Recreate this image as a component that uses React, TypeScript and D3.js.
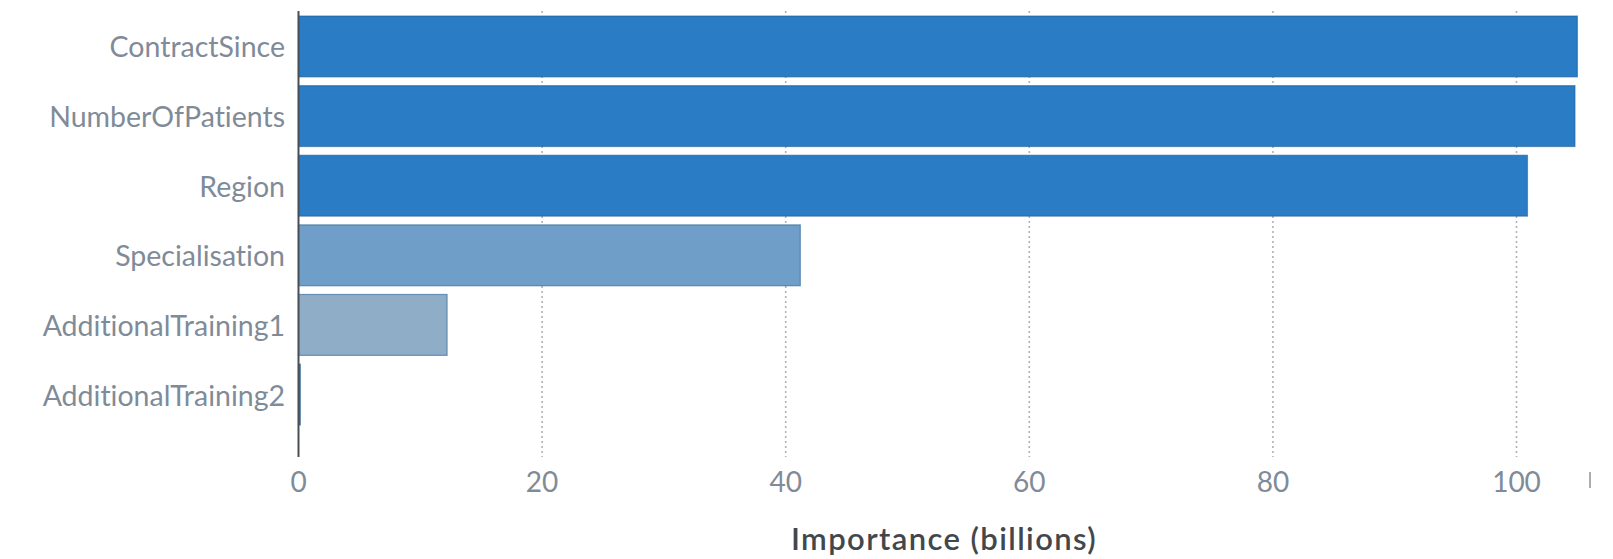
import React from "react";
import * as d3 from "d3";

const categories = [
  "ContractSince",
  "NumberOfPatients",
  "Region",
  "Specialisation",
  "AdditionalTraining1",
  "AdditionalTraining2",
];
const importance = [105.0, 104.8, 100.9, 41.2, 12.2, 0.15];
const barColors = ["#2a7cc5", "#2a7cc5", "#2a7cc5", "#6f9fc9", "#8fadc7", "#4d6a86"];
const xTicks = [0, 20, 40, 60, 80, 100];
const xDomainMax = 106;
const xTitle = "Importance (billions)";

const W = 1613;
const H = 559;
const FONT = "Lato, 'Open Sans', sans-serif";

export default function App() {
  const x = d3.scaleLinear().domain([0, xDomainMax]).range([298.5, 1589.6]);
  const y = d3
    .scaleBand<string>()
    .domain(categories)
    .range([11.65, 429.35])
    .paddingInner(0.125)
    .paddingOuter(0.0625);
  const plotTop = 11;
  const plotBottom = 457;

  return (
    <svg
      width={W}
      height={H}
      style={{
        position: "absolute",
        left: 0,
        top: 0,
        background: "#fff",
        fontVariantLigatures: "none",
      }}
      fontFamily={FONT}
    >
      {xTicks
        .filter((t) => t !== 0)
        .map((t) => (
          <line
            key={"g" + t}
            x1={x(t)}
            x2={x(t)}
            y1={plotTop}
            y2={plotBottom}
            stroke="#adb2b7"
            strokeWidth={1.6}
            strokeDasharray="2,3"
          />
        ))}
      {categories.map((c, i) => (
        <rect
          key={c}
          x={x(0)}
          y={y(c)}
          width={Math.max(1, x(importance[i]) - x(0))}
          height={y.bandwidth()}
          fill={barColors[i]}
          stroke="#1d5a8f"
          strokeOpacity={0.55}
          strokeWidth={1.2}
        />
      ))}
      <line
        x1={x(0)}
        x2={x(0)}
        y1={plotTop}
        y2={plotBottom}
        stroke="#4a4f55"
        strokeWidth={2}
      />
      {categories.map((c) => (
        <text
          key={"l" + c}
          x={285}
          y={(y(c) as number) + y.bandwidth() / 2}
          textAnchor="end"
          dominantBaseline="central"
          fontSize={28.5}
          fill="#7f8b98"
        >
          {c}
        </text>
      ))}
      {xTicks.map((t) => (
        <text
          key={"t" + t}
          x={x(t)}
          y={481}
          textAnchor="middle"
          dominantBaseline="central"
          fontSize={28}
          fill="#7f8b98"
        >
          {t}
        </text>
      ))}
      <line x1={1590} x2={1590} y1={472} y2={488} stroke="#8a939c" strokeWidth={1.5} />
      <text
        x={(x(0) + x(xDomainMax)) / 2}
        y={538}
        textAnchor="middle"
        dominantBaseline="central"
        fontSize={31}
        fontWeight={600}
        letterSpacing={1.4}
        fill="#43474c"
      >
        {xTitle}
      </text>
    </svg>
  );
}
